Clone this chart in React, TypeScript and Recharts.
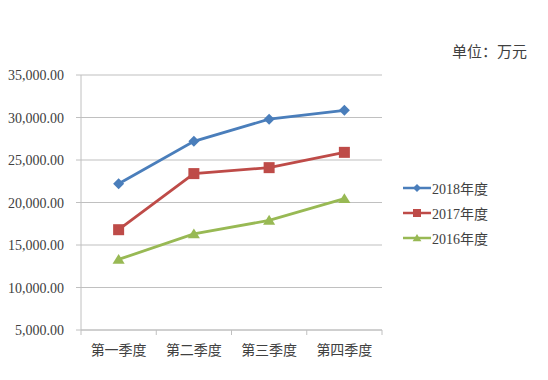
// Quarterly revenue by year: serif Excel-style line chart, unit label top-right

import { LineChart, Line, XAxis, YAxis, CartesianGrid } from 'recharts'

const quarters = ['第一季度', '第二季度', '第三季度', '第四季度']
const y2018 = [22200, 27200, 29800, 30850]
const y2017 = [16800, 23400, 24100, 25900]
const y2016 = [13300, 16300, 17900, 20450]
const yTicks = [5000, 10000, 15000, 20000, 25000, 30000, 35000]

const W = 548
const H = 380
const M = { top: 75, right: 166, bottom: 20, left: 0 }
const Y_AXIS_W = 81
const HALF_BAND = (W - M.right - Y_AXIS_W) / quarters.length / 2

const FONT = 'Liberation Serif, DejaVu Serif, Noto Sans CJK SC, serif'
const GRID = '#c0c0c0'
const TEXT = '#404040'

const SERIES = [
  { key: 'y2018', name: '2018年度', color: '#4a7ebb', shape: 'diamond' },
  { key: 'y2017', name: '2017年度', color: '#be4b48', shape: 'square' },
  { key: 'y2016', name: '2016年度', color: '#98b954', shape: 'triangle' },
]

const data = quarters.map((q, i) => ({ q, y2018: y2018[i], y2017: y2017[i], y2016: y2016[i] }))

const fmt = (v: number) =>
  v.toLocaleString('en-US', { minimumFractionDigits: 2, maximumFractionDigits: 2 })

function Marker({ cx, cy, shape, color, s = 5.5 }: {
  cx: number; cy: number; shape: string; color: string; s?: number
}) {
  if (shape === 'diamond')
    return <path d={`M${cx},${cy - s}L${cx + s},${cy}L${cx},${cy + s}L${cx - s},${cy}Z`} fill={color} />
  if (shape === 'square')
    return <rect x={cx - s} y={cy - s} width={s * 2} height={s * 2} fill={color} />
  return <path d={`M${cx},${cy - s}L${cx + s * 1.1},${cy + s * 0.8}L${cx - s * 1.1},${cy + s * 0.8}Z`} fill={color} />
}

function QuarterTick({ x, y, payload, index }: any) {
  return (
    <g>
      <line x1={x - HALF_BAND} y1={y} x2={x - HALF_BAND} y2={y + 5} stroke={GRID} />
      {index === quarters.length - 1 && (
        <line x1={x + HALF_BAND} y1={y} x2={x + HALF_BAND} y2={y + 5} stroke={GRID} />
      )}
      <text x={x} y={y + 25} textAnchor="middle" fill={TEXT}
        style={{ fontSize: 14, fontFamily: FONT }}>
        {payload.value}
      </text>
    </g>
  )
}

function ValueTick({ x, y, payload }: any) {
  return (
    <text x={x} y={y} dy={5} textAnchor="end" fill={TEXT}
      style={{ fontSize: 14, fontFamily: FONT }}>
      {fmt(payload.value)}
    </text>
  )
}

function LegendBox() {
  return (
    <div style={{
      position: 'absolute', left: 402, top: 175, fontFamily: FONT, fontSize: 14, color: TEXT,
    }}>
      {SERIES.map((s) => (
        <div key={s.key} style={{ display: 'flex', alignItems: 'center', height: 25 }}>
          <svg width={30} height={14}>
            <line x1={1} y1={7} x2={29} y2={7} stroke={s.color} strokeWidth={2.5} />
            <Marker cx={15} cy={7} shape={s.shape} color={s.color} s={4} />
          </svg>
          <span>{s.name}</span>
        </div>
      ))}
    </div>
  )
}

export default function App() {
  return (
    <div style={{ position: 'absolute', left: 0, top: 0, width: W, height: H, background: '#fff' }}>
      <LineChart width={W} height={H} data={data} margin={M}>
        <CartesianGrid vertical={false} stroke={GRID} strokeWidth={1.2} />
        <XAxis
          dataKey="q"
          scale="band"
          height={30}
          axisLine={{ stroke: GRID }}
          tickLine={false}
          tickSize={0}
          tickMargin={0}
          tick={<QuarterTick />}
          interval={0}
        />
        <YAxis
          width={Y_AXIS_W}
          domain={[5000, 35000]}
          ticks={yTicks}
          axisLine={{ stroke: GRID }}
          tickLine={{ stroke: GRID }}
          tickSize={5}
          tickMargin={12}
          tick={<ValueTick />}
        />
        {SERIES.map((s) => (
          <Line
            key={s.key}
            dataKey={s.key}
            name={s.name}
            stroke={s.color}
            strokeWidth={2.8}
            isAnimationActive={false}
            dot={(p: any) => <Marker key={p.index} cx={p.cx} cy={p.cy} shape={s.shape} color={s.color} />}
            activeDot={false}
          />
        ))}
      </LineChart>
      <div style={{
        position: 'absolute', left: 452, top: 40, fontFamily: FONT, fontSize: 15, color: TEXT,
      }}>
        单位：万元
      </div>
      <LegendBox />
    </div>
  )
}
